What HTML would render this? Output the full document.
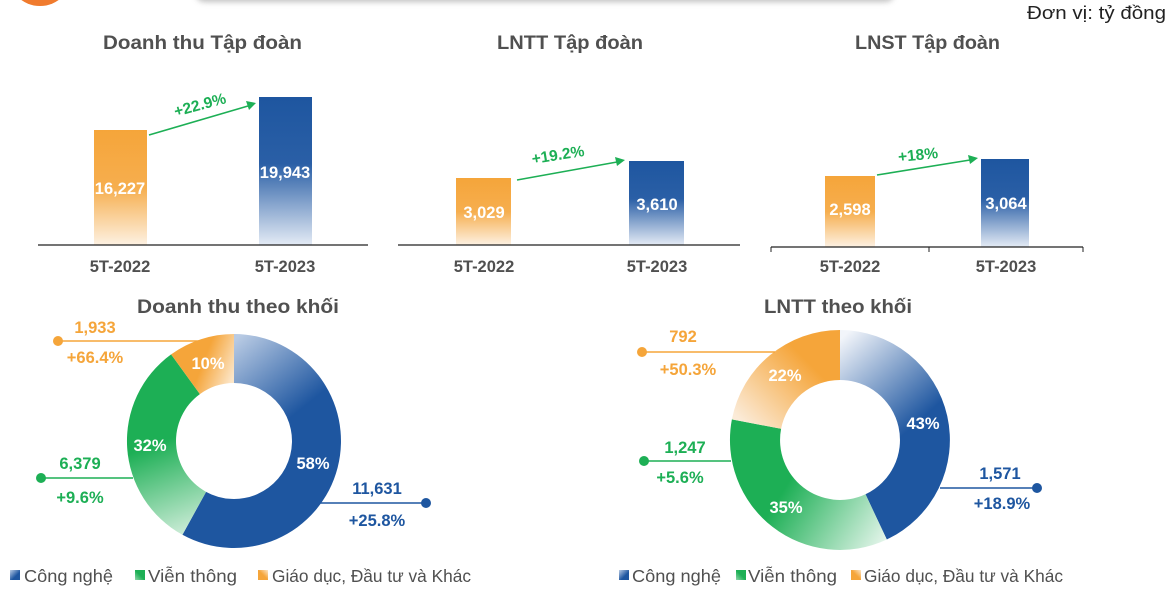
<!DOCTYPE html>
<html><head><meta charset="utf-8"><style>
html,body{margin:0;padding:0;background:#fff;}
svg{display:block;}
text{font-family:"Liberation Sans",sans-serif;font-weight:bold;}
</style></head><body>
<svg width="1173" height="606" viewBox="0 0 1173 606" xmlns="http://www.w3.org/2000/svg">
<defs>
<linearGradient id="bo" x1="0" y1="0" x2="0" y2="1"><stop offset="0" stop-color="#F5A53A"/><stop offset="0.5" stop-color="#F6AE4E"/><stop offset="1" stop-color="#FDF1E2"/></linearGradient>
<linearGradient id="bb" x1="0" y1="0" x2="0" y2="1"><stop offset="0" stop-color="#1E56A0"/><stop offset="0.45" stop-color="#2A5FA6"/><stop offset="1" stop-color="#E4EBF5"/></linearGradient>
<filter id="sh" x="-10%" y="-100%" width="120%" height="300%"><feGaussianBlur stdDeviation="3"/></filter>
<linearGradient id="d1b" gradientUnits="userSpaceOnUse" x1="240" y1="335" x2="300" y2="410"><stop offset="0" stop-color="#B9CBE4"/><stop offset="1" stop-color="#1E56A0"/></linearGradient>
<linearGradient id="d1g" gradientUnits="userSpaceOnUse" x1="150" y1="400" x2="200" y2="535"><stop offset="0.3" stop-color="#1DAF55"/><stop offset="1" stop-color="#D8F0E0"/></linearGradient>
<linearGradient id="d1o" gradientUnits="userSpaceOnUse" x1="195" y1="360" x2="234" y2="375"><stop offset="0.2" stop-color="#F5A53A"/><stop offset="1" stop-color="#FCE6C8"/></linearGradient>
<linearGradient id="d2b" gradientUnits="userSpaceOnUse" x1="845" y1="335" x2="920" y2="420"><stop offset="0" stop-color="#F2F5FA"/><stop offset="1" stop-color="#1E56A0"/></linearGradient>
<linearGradient id="d2g" gradientUnits="userSpaceOnUse" x1="790" y1="480" x2="885" y2="540"><stop offset="0" stop-color="#1DAF55"/><stop offset="1" stop-color="#E2F4E9"/></linearGradient>
<linearGradient id="d2o" gradientUnits="userSpaceOnUse" x1="810" y1="350" x2="740" y2="420"><stop offset="0.1" stop-color="#F5A53A"/><stop offset="1" stop-color="#FBEBD8"/></linearGradient>
<linearGradient id="lb" x1="0" y1="0" x2="1" y2="1"><stop offset="0" stop-color="#B9CBE4"/><stop offset="0.6" stop-color="#1E56A0"/></linearGradient>
<linearGradient id="lg" x1="0" y1="1" x2="1" y2="0"><stop offset="0" stop-color="#8FD6AA"/><stop offset="0.5" stop-color="#1DAF55"/></linearGradient>
<linearGradient id="lo" x1="0" y1="1" x2="1" y2="0"><stop offset="0.5" stop-color="#F5A53A"/><stop offset="1" stop-color="#FCE6C8"/></linearGradient>
</defs>

<circle cx="40" cy="-26" r="32" fill="#F07B2E"/>
<rect x="195" y="-40" width="700" height="42" rx="10" fill="#999" opacity="0.6" filter="url(#sh)"/>
<rect x="195" y="-40" width="700" height="40" rx="10" fill="#fff"/>
<text x="1027" y="19" font-size="18" fill="#222" style="font-weight:normal" textLength="139" lengthAdjust="spacingAndGlyphs">Đơn vị: tỷ đồng</text>

<g font-size="19" fill="#505050">
<text x="103" y="49" textLength="199" lengthAdjust="spacingAndGlyphs">Doanh thu Tập đoàn</text>
<text x="497" y="49" textLength="146" lengthAdjust="spacingAndGlyphs">LNTT Tập đoàn</text>
<text x="855" y="49" textLength="145" lengthAdjust="spacingAndGlyphs">LNST Tập đoàn</text>
<text x="137" y="313" textLength="202" lengthAdjust="spacingAndGlyphs">Doanh thu theo khối</text>
<text x="764" y="313" textLength="148" lengthAdjust="spacingAndGlyphs">LNTT theo khối</text>
</g>

<rect x="94" y="130" width="53" height="115" fill="url(#bo)"/>
<rect x="259" y="97" width="53" height="148" fill="url(#bb)"/>
<line x1="38" y1="245" x2="368" y2="245" stroke="#222" stroke-width="1.2"/>
<rect x="456" y="178" width="55" height="67" fill="url(#bo)"/>
<rect x="629" y="161" width="55" height="84" fill="url(#bb)"/>
<line x1="398" y1="245" x2="740" y2="245" stroke="#222" stroke-width="1.2"/>
<rect x="825" y="176" width="50" height="71" fill="url(#bo)"/>
<rect x="981" y="159" width="48" height="88" fill="url(#bb)"/>
<line x1="771" y1="247" x2="1083" y2="247" stroke="#222" stroke-width="1.2"/>
<line x1="771" y1="247" x2="771" y2="252" stroke="#222"/>
<line x1="929" y1="247" x2="929" y2="252" stroke="#222"/>
<line x1="1083" y1="247" x2="1083" y2="252" stroke="#222"/>

<g font-size="16.5" fill="#fff" text-anchor="middle">
<text x="120" y="194">16,227</text>
<text x="285" y="178">19,943</text>
<text x="484" y="218">3,029</text>
<text x="657" y="210">3,610</text>
<text x="850" y="215">2,598</text>
<text x="1006" y="209">3,064</text>
</g>
<g font-size="16.5" fill="#505050" text-anchor="middle">
<text x="120" y="272">5T-2022</text><text x="285" y="272">5T-2023</text>
<text x="484" y="272">5T-2022</text><text x="657" y="272">5T-2023</text>
<text x="850" y="272">5T-2022</text><text x="1006" y="272">5T-2023</text>
</g>

<g stroke="#1DAF55" stroke-width="1.6" fill="#1DAF55">
<line x1="149" y1="135" x2="248" y2="106"/><polygon points="256,103 246,101 249,110" stroke="none"/>
<line x1="517" y1="180" x2="617" y2="162"/><polygon points="625,160 615,157 617,166" stroke="none"/>
<line x1="877" y1="175" x2="970" y2="160"/><polygon points="978,158 968,155 970,164" stroke="none"/>
</g>
<g font-size="15.5" fill="#1DAF55" text-anchor="middle">
<text x="200" y="110" transform="rotate(-15 200 105)">+22.9%</text>
<text x="558" y="160" transform="rotate(-9 558 155)">+19.2%</text>
<text x="918" y="160" transform="rotate(-6 918 155)">+18%</text>
</g>

<path d="M234,334 A107,107 0 1 1 182.45,534.77 L206.06,491.83 A58,58 0 1 0 234,383 Z" fill="url(#d1b)"/>
<path d="M182.45,534.77 A107,107 0 0 1 171.1,354.4 L199.9,394.1 A58,58 0 0 0 206.06,491.83 Z" fill="url(#d1g)"/>
<path d="M171.1,354.4 A107,107 0 0 1 234,334 L234,383 A58,58 0 0 0 199.9,394.1 Z" fill="url(#d1o)"/>
<g font-size="16.5" fill="#fff" text-anchor="middle">
<text x="313" y="469">58%</text><text x="150" y="451">32%</text><text x="208" y="369">10%</text>
</g>
<line x1="58" y1="341" x2="200" y2="341" stroke="#F5A53A" stroke-width="1.5"/><circle cx="58" cy="341" r="5" fill="#F5A53A"/>
<line x1="41" y1="478" x2="133" y2="478" stroke="#1DAF55" stroke-width="1.5"/><circle cx="41" cy="478" r="5" fill="#1DAF55"/>
<line x1="320" y1="503" x2="426" y2="503" stroke="#1E56A0" stroke-width="1.5"/><circle cx="426" cy="503" r="5" fill="#1E56A0"/>
<g font-size="16.5" text-anchor="middle">
<text x="95" y="333" fill="#F5A53A">1,933</text><text x="95" y="363" fill="#F5A53A">+66.4%</text>
<text x="80" y="469" fill="#1DAF55">6,379</text><text x="80" y="503" fill="#1DAF55">+9.6%</text>
<text x="377" y="494" fill="#1E56A0">11,631</text><text x="377" y="526" fill="#1E56A0">+25.8%</text>
</g>

<path d="M840,330 A110,110 0 0 1 886.8,539.5 L865.5,494.3 A60,60 0 0 0 840,380 Z" fill="url(#d2b)"/>
<path d="M886.8,539.5 A110,110 0 0 1 731.9,419.4 L781.1,428.8 A60,60 0 0 0 865.5,494.3 Z" fill="url(#d2g)"/>
<path d="M731.9,419.4 A110,110 0 0 1 840,330 L840,380 A60,60 0 0 0 781.1,428.8 Z" fill="url(#d2o)"/>
<g font-size="16.5" fill="#fff" text-anchor="middle">
<text x="923" y="429">43%</text><text x="786" y="513">35%</text><text x="785" y="381">22%</text>
</g>
<line x1="642" y1="352" x2="775" y2="352" stroke="#F5A53A" stroke-width="1.5"/><circle cx="642" cy="352" r="5" fill="#F5A53A"/>
<line x1="644" y1="461" x2="731" y2="461" stroke="#1DAF55" stroke-width="1.5"/><circle cx="644" cy="461" r="5" fill="#1DAF55"/>
<line x1="940" y1="488" x2="1037" y2="488" stroke="#1E56A0" stroke-width="1.5"/><circle cx="1037" cy="488" r="5" fill="#1E56A0"/>
<g font-size="16.5" text-anchor="middle">
<text x="683" y="342" fill="#F5A53A">792</text><text x="688" y="375" fill="#F5A53A">+50.3%</text>
<text x="685" y="453" fill="#1DAF55">1,247</text><text x="680" y="483" fill="#1DAF55">+5.6%</text>
<text x="1000" y="479" fill="#1E56A0">1,571</text><text x="1002" y="509" fill="#1E56A0">+18.9%</text>
</g>

<g font-size="17.5" fill="#505050">
<rect x="10" y="570" width="10" height="10" fill="url(#lb)"/><text x="24" y="582" style="font-weight:normal" textLength="89" lengthAdjust="spacingAndGlyphs">Công nghệ</text>
<rect x="135" y="570" width="10" height="10" fill="url(#lg)"/><text x="148" y="582" style="font-weight:normal" textLength="89" lengthAdjust="spacingAndGlyphs">Viễn thông</text>
<rect x="258" y="570" width="10" height="10" fill="url(#lo)"/><text x="272" y="582" style="font-weight:normal" textLength="199" lengthAdjust="spacingAndGlyphs">Giáo dục, Đầu tư và Khác</text>
<rect x="619" y="570" width="10" height="10" fill="url(#lb)"/><text x="632" y="582" style="font-weight:normal" textLength="89" lengthAdjust="spacingAndGlyphs">Công nghệ</text>
<rect x="736" y="570" width="10" height="10" fill="url(#lg)"/><text x="748" y="582" style="font-weight:normal" textLength="89" lengthAdjust="spacingAndGlyphs">Viễn thông</text>
<rect x="851" y="570" width="10" height="10" fill="url(#lo)"/><text x="864" y="582" style="font-weight:normal" textLength="199" lengthAdjust="spacingAndGlyphs">Giáo dục, Đầu tư và Khác</text>
</g>
</svg>
</body></html>
